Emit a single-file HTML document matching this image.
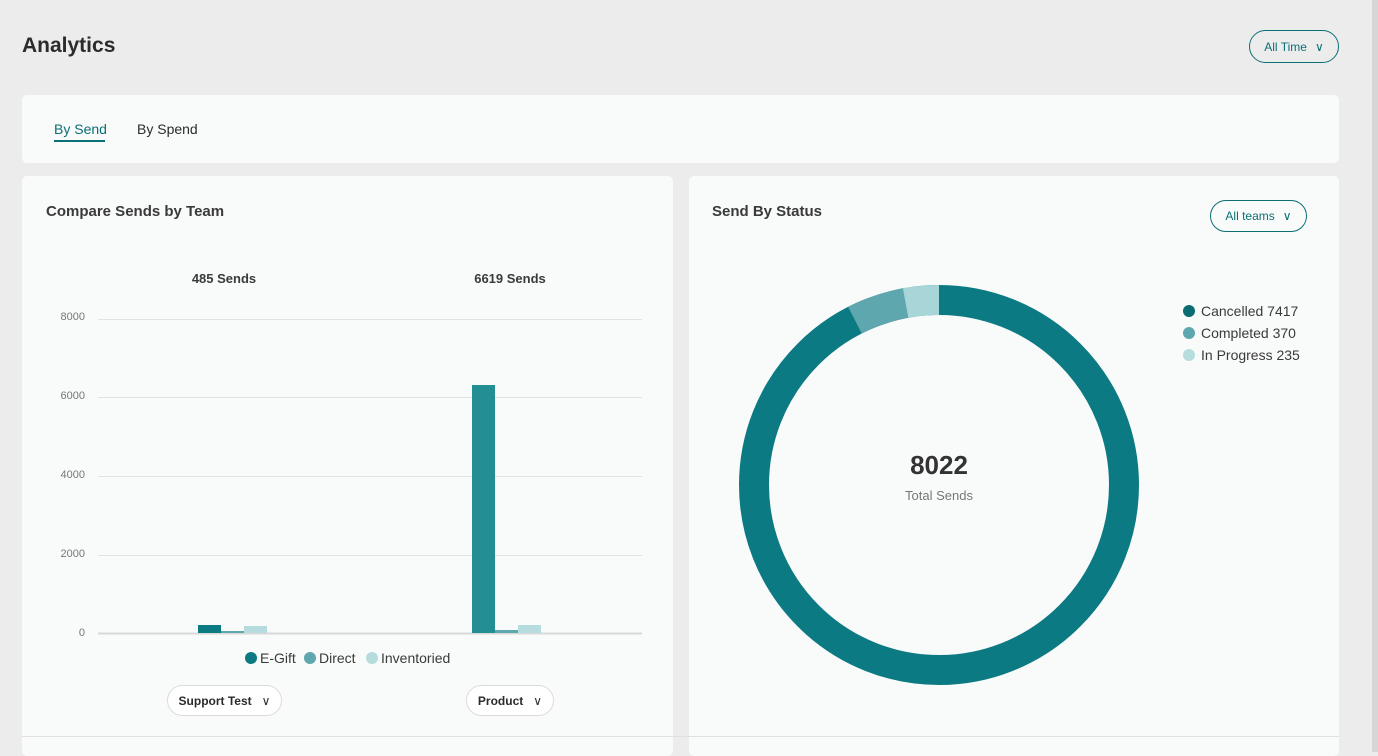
<!DOCTYPE html>
<html><head><style>
body{margin:0;width:1378px;height:752px;background:#ececec;font-family:"Liberation Sans",sans-serif;overflow:hidden;position:relative;color:#2b2b2b}
.card{position:absolute;background:#f9fafa;border-radius:5px}
.t{position:absolute;white-space:nowrap}
.pill{position:absolute;border:1px solid #0b6f76;border-radius:18px;color:#0b6f76;font-size:12px;box-sizing:border-box;display:flex;align-items:center;justify-content:center;gap:8px}
.gpill{position:absolute;border:1px solid #dcdcdc;border-radius:16px;background:#fff;font-size:12px;font-weight:bold;box-sizing:border-box;display:flex;align-items:center;justify-content:center;gap:10px}
</style></head><body>
<div style="position:absolute;right:0;top:0;width:6px;height:752px;background:#d6d6d6"></div>
<div class="t" style="left:22px;top:34px;font-size:21px;font-weight:bold">Analytics</div>
<div class="pill" style="left:1249px;top:30px;width:90px;height:33px">All Time <span>&#x2228;</span></div>
<div class="card" style="left:22px;top:95px;width:1317px;height:68px"></div>
<div class="t" style="left:54px;top:121px;font-size:14px;color:#0b6f76">By Send</div>
<div style="position:absolute;left:54px;top:140px;width:51px;height:2px;background:#0b6f76"></div>
<div class="t" style="left:137px;top:121px;font-size:14px">By Spend</div>
<div class="card" style="left:22px;top:176px;width:651px;height:580px"></div>
<div class="card" style="left:689px;top:176px;width:650px;height:580px"></div>
<div style="position:absolute;left:22px;top:736px;width:1317px;height:1px;background:#e0e0e0"></div>
<div class="t" style="left:46px;top:203px;font-size:15px;font-weight:bold;color:#3a3a3a">Compare Sends by Team</div>
<div class="t" style="left:712px;top:203px;font-size:15px;font-weight:bold;color:#3a3a3a">Send By Status</div>
<div class="pill" style="left:1210px;top:200px;width:97px;height:32px">All teams <span>&#x2228;</span></div>
<svg style="position:absolute;left:0;top:0" width="1378" height="752">
<g font-family="Liberation Sans" font-size="11" fill="#777" text-anchor="end">
<text x="85" y="320">8000</text><text x="85" y="399">6000</text><text x="85" y="478">4000</text><text x="85" y="557">2000</text><text x="85" y="636">0</text></g>
<g stroke="#e2e2e2" stroke-width="1">
<line x1="98" y1="319.5" x2="642" y2="319.5"/><line x1="98" y1="397.5" x2="642" y2="397.5"/><line x1="98" y1="476.5" x2="642" y2="476.5"/><line x1="98" y1="555.5" x2="642" y2="555.5"/></g>
<line x1="98" y1="633.5" x2="642" y2="633.5" stroke="#d8d8d8" stroke-width="2"/>
<g font-family="Liberation Sans" font-size="13" font-weight="bold" fill="#3a3a3a" text-anchor="middle"><text x="224" y="283">485 Sends</text><text x="510" y="283">6619 Sends</text></g>
<rect x="198" y="625" width="23" height="8" fill="#0b7a82"/><rect x="221" y="631" width="23" height="2" fill="#5ea7ae"/><rect x="244" y="626" width="23" height="7" fill="#b6dcdd"/>
<rect x="472" y="385" width="23" height="248" fill="#238e94"/><rect x="495" y="630" width="23" height="3" fill="#5ea7ae"/><rect x="518" y="625" width="23" height="8" fill="#b6dcdd"/>
<g font-family="Liberation Sans" font-size="14" fill="#3a3a3a"><circle cx="251" cy="658" r="6" fill="#0b7a82"/><text x="260" y="663">E-Gift</text><circle cx="310" cy="658" r="6" fill="#5ea7ae"/><text x="319" y="663">Direct</text><circle cx="372" cy="658" r="6" fill="#b6dcdd"/><text x="381" y="663">Inventoried</text></g>
<circle cx="939" cy="485" r="185" fill="none" stroke="#0b7a82" stroke-width="30"/>
<circle cx="939" cy="485" r="185" fill="none" stroke="#5ea7ae" stroke-width="30" stroke-dasharray="53.6 2000" stroke-dashoffset="-1074.7" transform="rotate(-90 939 485)"/>
<circle cx="939" cy="485" r="185" fill="none" stroke="#a8d5d8" stroke-width="30" stroke-dasharray="34.1 2000" stroke-dashoffset="-1128.3" transform="rotate(-90 939 485)"/>
<text x="939" y="474" text-anchor="middle" font-family="Liberation Sans" font-size="26" font-weight="bold" fill="#333">8022</text>
<text x="939" y="500" text-anchor="middle" font-family="Liberation Sans" font-size="13" fill="#777">Total Sends</text>
<g font-family="Liberation Sans" font-size="14" fill="#3a3a3a"><circle cx="1189" cy="311" r="6" fill="#0b6b72"/><text x="1201" y="316">Cancelled 7417</text><circle cx="1189" cy="333" r="6" fill="#5ea7ae"/><text x="1201" y="338">Completed 370</text><circle cx="1189" cy="355" r="6" fill="#b6dcdd"/><text x="1201" y="360">In Progress 235</text></g>
</svg>
<div class="gpill" style="left:167px;top:685px;width:115px;height:31px">Support Test <span style="font-weight:normal">&#x2228;</span></div>
<div class="gpill" style="left:466px;top:685px;width:88px;height:31px">Product <span style="font-weight:normal">&#x2228;</span></div>
</body></html>
